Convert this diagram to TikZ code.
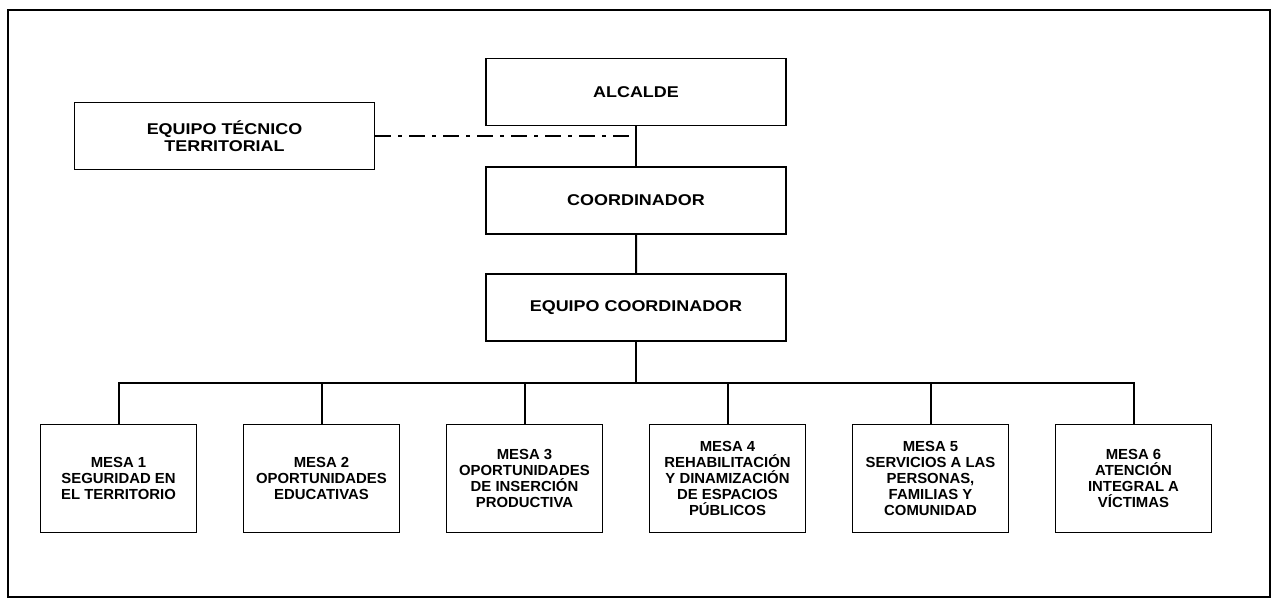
\documentclass[tikz,border=0pt]{standalone}
\usepackage{fontspec}
\setmainfont{Liberation Sans}[FakeStretch=1.15]
\newfontfamily\mesafont{Liberation Sans}[FakeStretch=1.02]
\usepackage{tikz}
\usetikzlibrary{trees}

\begin{document}
\begin{tikzpicture}[x=0.5pt,y=-0.5pt,
  every node/.style={draw,line width=0.6pt,align=center,inner sep=2pt,
    minimum width=150pt,minimum height=33.5pt,
    font=\bfseries\fontsize{7.8}{8.5}\selectfont},
  edge from parent/.style={draw,line width=1pt},
  level 1/.style={level distance=54.25pt},
  level 2/.style={level distance=53.5pt},
  level 3/.style={level distance=85.5pt,sibling distance=101.5pt,
    edge from parent path={(\tikzparentnode.south) -- +(0,-20.5pt) -| (\tikzchildnode.north)},
    every node/.append style={xshift=-5pt,minimum width=78pt,minimum height=54pt,
      font=\mesafont\bfseries\fontsize{7.3}{8.1}\selectfont}}]

    \useasboundingbox (0,0) rectangle (1275,610);
    \draw[line width=0.9pt] (8,10) rectangle (1270,597);

    \node (alcalde) at (636,92) {ALCALDE}
        child { node (coordinador) {COORDINADOR}
            child { node (equipo) {EQUIPO COORDINADOR}
                child { node (mesa1) {MESA 1\\SEGURIDAD EN\\EL TERRITORIO} }
                child { node (mesa2) {MESA 2\\OPORTUNIDADES\\EDUCATIVAS} }
                child { node (mesa3) {MESA 3\\OPORTUNIDADES\\DE INSERCIÓN\\PRODUCTIVA} }
                child { node (mesa4) {MESA 4\\REHABILITACIÓN\\Y DINAMIZACIÓN\\DE ESPACIOS\\PÚBLICOS} }
                child { node (mesa5) {MESA 5\\SERVICIOS A LAS\\PERSONAS,\\FAMILIAS Y\\COMUNIDAD} }
                child { node (mesa6) {MESA 6\\ATENCIÓN\\INTEGRAL A\\VÍCTIMAS} }
            }
        };

    \node (tecnico) at (224.5,136) {EQUIPO TÉCNICO\\TERRITORIAL};
    \draw[line width=1pt,dash pattern=on 8pt off 3.5pt on 2pt off 3.5pt]
        (tecnico.east) -- (tecnico.east -| alcalde.south);
\end{tikzpicture}
\end{document}
